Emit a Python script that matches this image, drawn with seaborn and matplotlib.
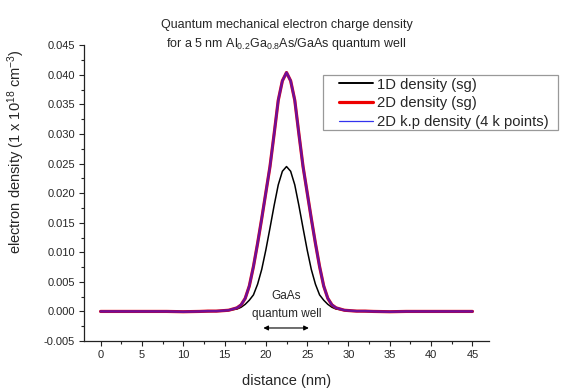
import numpy as np
import pandas as pd
import seaborn as sns
import matplotlib.pyplot as plt
from matplotlib.patches import Rectangle
from matplotlib.ticker import MultipleLocator, FormatStrFormatter

# distance grid (nm) and densities
distance = [0, 2, 4, 6, 8, 10, 12, 13, 14,
            14.5, 15, 15.5, 16, 16.5, 17, 17.5, 18, 18.5, 19, 19.5, 20, 20.5,
            21, 21.5, 22, 22.5, 23, 23.5, 24, 24.5, 25, 25.5, 26, 26.5, 27,
            27.5, 28, 28.5, 29, 29.5, 30, 30.5,
            31, 32, 33, 35, 37, 39, 41, 43, 45]

density_1d = [0, 0, 0, 0, 0, -0.00005, 0, 0, 0.00005,
              0.0001, 0.0001, 0.0002, 0.0003, 0.0004, 0.0007, 0.0012, 0.0019, 0.0028,
              0.0046, 0.0071, 0.0104, 0.0141, 0.0179, 0.0214, 0.0237, 0.0245,
              0.0237, 0.0214, 0.0179, 0.0141, 0.0104, 0.0071, 0.0046, 0.0028,
              0.0019, 0.0012, 0.0007, 0.0004, 0.0003, 0.0002, 0.0001, 0.0001,
              0.00005, 0, 0, -0.00005, 0, 0, 0, 0, 0]

density_2d = [0, 0, 0, 0, 0, -0.00005, 0, 0.00005, 0.00005,
              0.0001, 0.00015, 0.0002, 0.0004, 0.0006, 0.0011, 0.0022, 0.0043, 0.0076,
              0.0115, 0.0157, 0.0201, 0.0245, 0.0300, 0.0357, 0.0390, 0.0404,
              0.0390, 0.0357, 0.0300, 0.0245, 0.0201, 0.0157, 0.0115, 0.0076,
              0.0043, 0.0022, 0.0011, 0.0006, 0.0004, 0.0002, 0.00015, 0.0001,
              0.00005, 0.00005, 0, -0.00005, 0, 0, 0, 0, 0]

# k.p result sits on top of the 2D sg curve
density_kp = density_2d

labels = ['1D density (sg)', '2D density (sg)', '2D k.p density (4 k points)']

sns.set_style('ticks')
plt.rcParams['font.family'] = ['Liberation Sans', 'DejaVu Sans']
plt.rcParams['mathtext.fontset'] = 'custom'
plt.rcParams['mathtext.rm'] = 'Liberation Sans'
plt.rcParams['mathtext.it'] = 'Liberation Sans'
plt.rcParams['axes.unicode_minus'] = False

fig = plt.figure(figsize=(5.7, 3.92), dpi=100)
ax = fig.add_axes([0.1474, 0.1301, 0.7105, 0.7543])

df = pd.DataFrame({'distance': distance, '1d': density_1d,
                   '2d': density_2d, 'kp': density_kp})

sns.lineplot(data=df, x='distance', y='1d', ax=ax, color='black', lw=1.1,
             label=labels[0], sort=False)
sns.lineplot(data=df, x='distance', y='2d', ax=ax, color='#ee0000', lw=2.3,
             label=labels[1], sort=False)
sns.lineplot(data=df, x='distance', y='kp', ax=ax, color='#1a1aff', lw=1.8,
             alpha=0.6, label=labels[2], sort=False)

ax.set_xlim(-2, 47)
ax.set_ylim(-0.005, 0.045)
ax.xaxis.set_major_locator(MultipleLocator(5))
ax.xaxis.set_minor_locator(MultipleLocator(2.5))
ax.yaxis.set_major_locator(MultipleLocator(0.005))
ax.yaxis.set_minor_locator(MultipleLocator(0.0025))
ax.yaxis.set_major_formatter(FormatStrFormatter('%.3f'))
ax.tick_params(which='major', direction='out', length=3.6, width=0.8,
               labelsize=8, color='#222222', pad=3)
ax.tick_params(which='minor', direction='out', length=2.2, width=0.8,
               color='#222222')
sns.despine(ax=ax)
for s in ['left', 'bottom']:
    ax.spines[s].set_linewidth(0.9)
    ax.spines[s].set_color('#222222')

ax.set_xlabel('distance (nm)', fontsize=10.5)
ax.set_ylabel('electron density (1 x 10$^{18}$ cm$^{-3}$)', fontsize=10.5)
ax.xaxis.set_label_coords(0.5, -0.11)
ax.yaxis.set_label_coords(-0.14, 0.64)

fig.text(0.5026, 1 - 28.3 / 392, 'Quantum mechanical electron charge density',
         ha='center', va='baseline', fontsize=9)
fig.text(0.5026, 1 - 46.7 / 392,
         'for a 5 nm Al$_{0.2}$Ga$_{0.8}$As/GaAs quantum well',
         ha='center', va='baseline', fontsize=9)

ax.text(22.5, 0.00265, 'GaAs', ha='center', va='center', fontsize=8.5)
ax.text(22.5, -0.00044, 'quantum well', ha='center', va='center', fontsize=8.5)
ax.annotate('', xy=(19.7, -0.0028), xytext=(25.2, -0.0028),
            arrowprops=dict(arrowstyle='<|-|>', color='black', lw=0.8,
                            mutation_scale=7, shrinkA=0, shrinkB=0))

# legend box drawn by hand so the handles can sit further in
ax.add_patch(Rectangle((323 / 570, 1 - 130 / 392), 235 / 570, 55 / 392,
                       transform=fig.transFigure, clip_on=False, zorder=4,
                       facecolor='white', edgecolor='#999999', lw=0.9))
leg = ax.legend(loc='upper left', bbox_to_anchor=(339 / 570, 1 - 77.5 / 392),
                bbox_transform=fig.transFigure, borderaxespad=0,
                fontsize=10.6, frameon=False,
                handlelength=2.3, handletextpad=0.3, borderpad=0,
                labelspacing=0.33)
leg.set_zorder(5)
hl = leg.get_lines()
hl[0].set_linewidth(1.4)
hl[1].set_linewidth(2.3)
hl[2].set_linewidth(0.9)
hl[2].set_color('#3333ee')
hl[2].set_alpha(1)

fig.savefig('out.png', dpi=100)
